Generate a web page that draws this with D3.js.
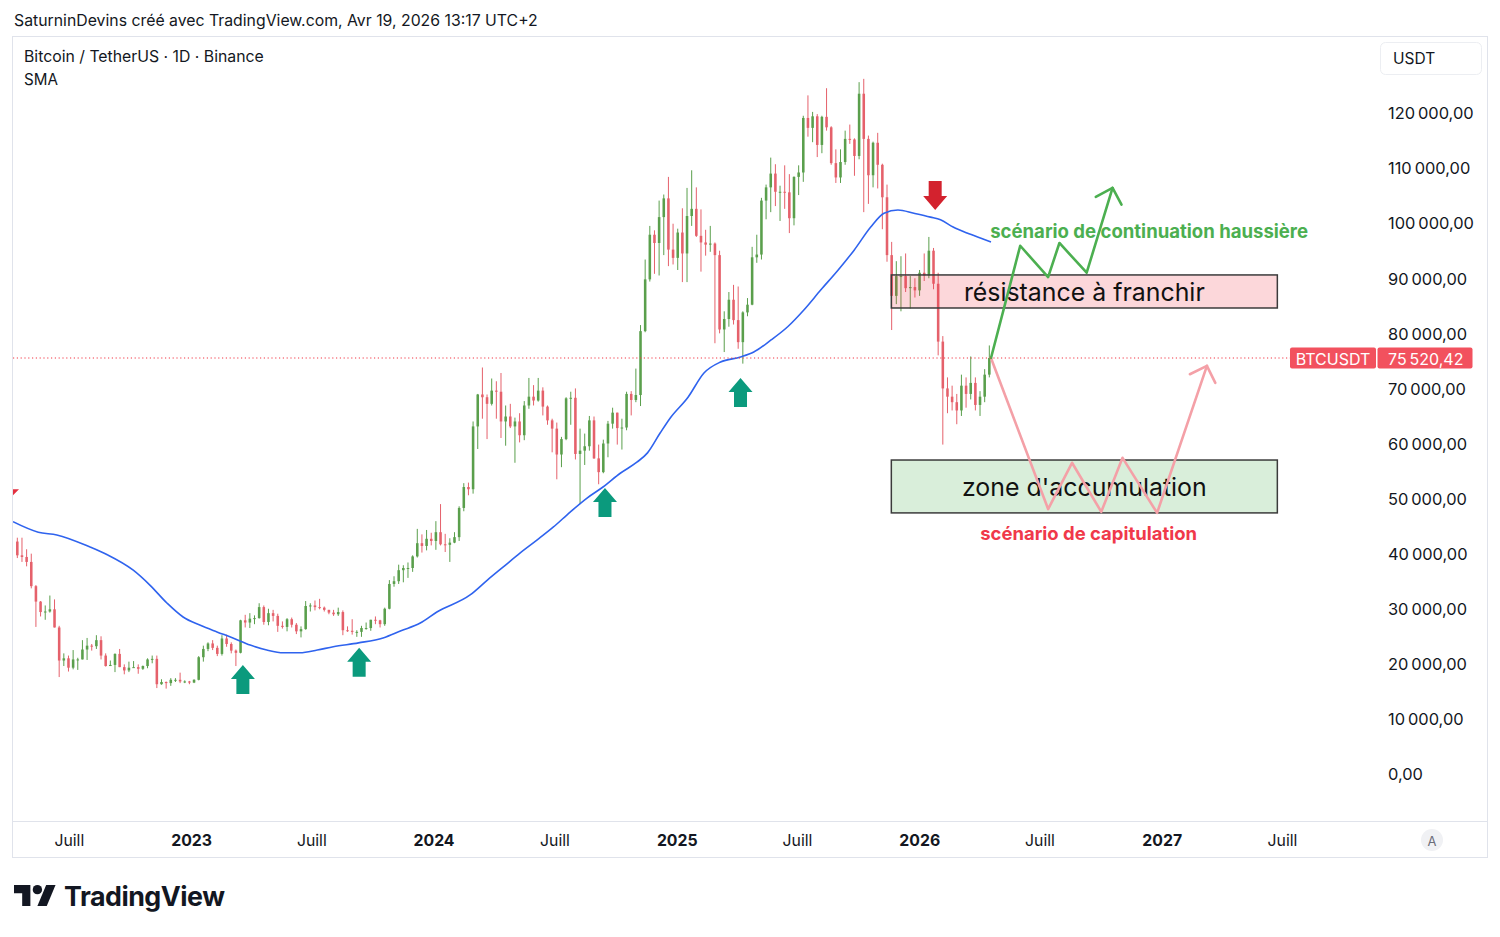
<!DOCTYPE html>
<html><head><meta charset="utf-8">
<script src="https://cdn.jsdelivr.net/npm/d3@7/dist/d3.min.js"></script>
<style>
html,body{margin:0;padding:0;background:#fff;}
svg{display:block;}
</style></head><body>
<svg id="c" width="1500" height="937"></svg>
<script>
// ---------------- DATA ----------------
const headerText = "SaturninDevins créé avec TradingView.com, Avr 19, 2026 13:17 UTC+2";
const symbolText = "Bitcoin / TetherUS · 1D · Binance";
const indicatorText = "SMA";
const currencyText = "USDT";
const tickerText = "BTCUSDT";

// weekly candles (week starting on Monday), values in USDT
const firstWeek = "2022-04-11";
const firstOpen = 42200;
const highs = [
  // 2022
  42900,42900,40800, 40000,34300,31400,30600,32400, 31700,26900,21900,21500, 22500,21100,24300,24700,
  23600,25200,25000,21900,20600, 21900,22700,19900,20400, 20500,19900,19700,21000,21500,
  21500,17200,16800,17400, 17400,18400,17000,16900,
  // 2023
  17200,21400,23300,23900,24300, 23300,25200,25300,23900, 22600,28000,28900,29200, 28800,31000,30600,30000,
  29800,29100,27700,28300,28400, 27400,26800,31400,31000, 31500,31800,30400,29800,29800,
  30200,29700,26800,28100, 26100,26900,27500,28000, 28600,28000,30200,35200,35900,
  38000,37900,38400,39700, 44500,43500,44300,43800,
  // 2024
  45900,49000,43600,42800,43900, 48600,52800,52900,64000, 69000,73800,68900,71800, 71300,72800,66900,67200,64700,
  65500,67700,71900,70600, 71900,70200,66900,64500, 63800,61200,68400,69400,70000,
  62700,61800,65000,64900, 59800,60700,64100,66500,65600, 64500,69400,69500,73600,
  81500,93400,99500,98700, 104100,105200,108400,99900,99000,
  // 2025
  102700,106400,109600,106500, 102500,98800,99500,96500, 95000,84000,87500,88800,88500, 84000,86400,95700,97900,
  104600,107000,111900,110700, 106800,110500,108900,108500,110500, 119500,123200,120200,119800,
  119500,124500,117600,113400, 113400,116800,117900,115400,125600, 126200,115900,114800,116400,
  110800,107000,96600,93100, 94000,94500,90400,90000,91500,
  // 2026
  94500,97500,95500,91000, 79500,72000,70500,69000, 72500,72000,75800,72000, 69500,73500,77800
];
const lows = [
  // 2022
  39200,38500,37700, 33700,26700,28600,28000,29300, 26600,17600,19600,18600, 19000,18900,20800,20700,
  22400,22700,20800,19500,19600, 18500,19400,18100,18500, 19300,18200,18900,19200,20100,
  15600,16200,15500,16000, 16700,16500,16500,16300,
  // 2023
  16500,17000,20400,22300,22500, 21400,21500,23100,21900, 19600,21900,26600,26500, 27200,28200,27100,27000,
  27700,25800,26400,25900,26600, 25400,24800,26200,29500, 29700,29900,29500,29000,28700,
  28700,25200,25800,25300, 24900,24900,26200,26000, 27200,26600,26900,29900,34000,
  34500,34800,35600,36700, 39300,40200,40600,41500,
  // 2024
  40700,41500,40300,38500,41900, 42300,47700,50600,50900, 59000,64500,60800,66900, 64500,61000,59600,62800,56500,
  60200,60600,66300,66900, 67600,65100,63400,58400, 53500,55700,60600,63400,57100,
  49000,56100,58700,57200, 52600,54600,57500,62700,59800, 58900,62400,65100,67500,
  66800,80200,89400,90800, 90500,94200,92200,92500,91500,
  // 2025
  89300,89300,99500,97500, 91200,94100,94800,78200, 80000,76600,81200,81600,77200, 74500,83100,85100,92800,
  93400,100700,102000,103100, 100400,102600,98200,99600,105100, 107500,115700,114700,112000,
  112700,116800,110600,107300, 107300,110600,114400,108600,111600, 102000,103500,106500,106300,
  98900,93000,80600,85300, 84000,87500,84500,86500,86800,
  // 2026
  89500,90000,88000,76000, 59800,65500,66000,63500, 65000,66500,68000,66000, 65000,67500,72000
];
const closes = [
  // 2022
  39700,39400,38500, 34100,31300,29400,29500,29900, 26600,20600,21000,19300, 20800,20800,22600,23300,
  23200,24300,21500,19600,19800, 21800,19400,18800,19300, 19400,19100,19600,20800,20900,
  16300,16700,16500,17100, 17100,16800,16800,16600,
  // 2023
  17100,21200,22700,23700,22900, 21800,24600,23600,22400, 22000,27900,27500,28200, 28300,30300,27600,29200,
  28700,26900,26700,28100,27100, 25900,26300,30500,30600, 30300,30200,29800,29300,29000,
  29400,26100,26000,25800, 25800,26500,26500,28000, 27900,27200,30000,34500,35000,
  37000,37400,37400,39500, 41900,41400,42700,42300,
  // 2024
  43900,41700,41600,42000,43000, 48300,52100,51700,63100, 68900,68400,67200,69600, 69400,64000,64900,63100,64000,
  61500,66900,68500,67800, 69600,66700,64200,62700, 58000,60800,68200,68300,58100,
  58700,59500,64200,57300, 54800,60000,63600,65600,62800, 62900,69000,67900,68800,
  80400,89800,97900,96400, 101100,104500,95200,93700,98300,
  // 2025
  94500,101300,102600,97700, 96500,96100,96300,94200, 80700,82600,86100,82400,78400, 83800,85200,93800,94300,
  104100,106500,109000,105700, 105700,105600,100900,108400,109200, 119100,117300,119400,114200,
  119300,117400,110900,108300, 111100,115300,115200,112200,123500, 115300,108700,114600,110600,
  104700,94200,86800,90400, 90400,88200,88400,87800,91000,
  // 2026
  90500,95000,89000,78500, 70000,68500,67500,66000, 70500,69000,71000,67000, 68500,72500,75520.42
];
const lastPrice = 75520.42;

// moving average (SMA)
const smaDates = ["2022-04-08","2022-05-16","2022-06-13","2022-08-02","2022-08-28","2022-10-06","2022-10-31","2022-11-26","2022-12-20",
  "2023-01-15","2023-02-09","2023-03-05","2023-03-31","2023-04-25","2023-05-20","2023-06-14","2023-07-10","2023-08-03","2023-09-10","2023-10-17","2023-11-13","2023-12-12",
  "2024-01-06","2024-02-25","2024-03-22","2024-04-15","2024-05-10","2024-06-05","2024-06-29","2024-07-25","2024-08-19","2024-09-12","2024-10-08","2024-11-02","2024-11-18","2024-12-07","2024-12-22",
  "2025-01-18","2025-02-11","2025-03-08","2025-04-07","2025-04-27","2025-05-23","2025-06-17","2025-07-11","2025-08-06","2025-09-01","2025-09-25","2025-10-20","2025-11-09","2025-11-30","2025-12-24",
  "2026-01-18","2026-02-02","2026-02-21","2026-03-14","2026-04-03","2026-04-19"];
const smaValues = [45800,43900,43400,41200,39800,37000,34300,31000,28500,
  27000,25800,24700,23400,22500,22000,22000,22500,23100,23800,24700,26000,27400,
  29400,32500,35200,37600,40100,42500,44800,47600,50100,52100,54600,56600,58300,61900,64600,
  68400,72800,74800,75700,76600,78800,81200,84200,87900,91500,95100,99300,101800,102400,101800,
  101100,100600,99300,98200,97300,96600];

// axes
const priceTicks = [0,10000,20000,30000,40000,50000,60000,70000,80000,90000,100000,110000,120000];
const timeTicks = ["2022-07-01","2023-01-01","2023-07-01","2024-01-01","2024-07-01","2025-01-01","2025-07-01","2026-01-01","2026-07-01","2027-01-01","2027-07-01"];
const timeLabels = ["Juill","2023","Juill","2024","Juill","2025","Juill","2026","Juill","2027","Juill"];

// drawings
const zoneDates = ["2025-11-20","2027-06-24"];
const resistancePrices = [84600, 90600];
const accumulationPrices = [47400, 57000];
const resistanceLabel = "résistance à franchir";
const accumulationLabel = "zone d'accumulation";
const bullDates = ["2026-04-19","2026-06-02","2026-07-14","2026-07-31","2026-09-10","2026-10-19"];
const bullValues = [75520,95900,90200,96400,91000,106400];
const bearDates = ["2026-04-19","2026-07-14","2026-08-19","2026-10-02","2026-11-03","2026-12-25","2027-03-10"];
const bearValues = [75520,48100,56500,47600,57400,47400,74100];
const bullLabel = "scénario de continuation haussière";
const bullLabelAt = ["2026-12-13", 98600];
const bearLabel = "scénario de capitulation";
const bearLabelAt = ["2026-09-13", 43750];
const buyArrowDates = ["2023-03-20","2023-09-11","2024-09-15","2025-04-07"];
const buyArrowPrices = [19800, 22900, 51900, 71900];
const sellArrowDates = ["2026-01-25"];
const sellArrowPrices = [102400];

// ---------------- DRAW ----------------
const FONT = "Inter, 'Noto Sans', sans-serif";
const TXT = "#131722";
const UP = "#5a9f4c", DOWN = "#e5616b";
const svg = d3.select("#c").attr("font-family", FONT);
const plot = {left: 13, right: 1377, top: 37, bottom: 821};

const x = d3.scaleUtc().domain([new Date("2022-04-08"), new Date("2027-11-21")]).range([plot.left, plot.right]);
const y = d3.scaleLinear().domain([0, 120000]).range([774, 113]);
const D = s => new Date(s);

function fit(sel, target) {
  const w = sel.node().getComputedTextLength();
  const fs = parseFloat(sel.attr("font-size"));
  sel.attr("font-size", fs * target / w);
  return sel;
}

// header
fit(svg.append("text").attr("x", 14).attr("y", 20).attr("dominant-baseline", "central")
  .attr("font-size", 15).attr("fill", TXT).text(headerText), 524);

// frame
svg.append("rect").attr("x", 12.5).attr("y", 36.5).attr("width", 1475).attr("height", 821)
  .attr("fill", "#fff").attr("stroke", "#e0e3eb");
svg.append("line").attr("x1", 13).attr("x2", 1487).attr("y1", 821.5).attr("y2", 821.5).attr("stroke", "#e0e3eb");

svg.append("clipPath").attr("id", "clip").append("rect")
  .attr("x", plot.left).attr("y", plot.top).attr("width", plot.right - plot.left).attr("height", plot.bottom - plot.top);
const g = svg.append("g").attr("clip-path", "url(#clip)");

// candles
const weeks = closes.map((c, i) => d3.utcDay.offset(D(firstWeek), 7 * i));
const candles = weeks.map((d, i) => ({date: d, open: i ? closes[i - 1] : firstOpen, high: highs[i], low: lows[i], close: closes[i]}));
const step = x(d3.utcDay.offset(weeks[0], 7)) - x(weeks[0]);
const bw = step * 0.55;
const cx = d => x(d3.utcHour.offset(d.date, 84));
const cg = g.append("g");
cg.selectAll("line").data(candles).join("line")
  .attr("x1", cx).attr("x2", cx).attr("y1", d => y(d.high)).attr("y2", d => y(d.low))
  .attr("stroke", d => d.close >= d.open ? UP : DOWN).attr("stroke-width", 1);
cg.selectAll("rect").data(candles).join("rect")
  .attr("x", d => cx(d) - bw / 2).attr("width", bw)
  .attr("y", d => y(Math.max(d.open, d.close)))
  .attr("height", d => Math.max(1, Math.abs(y(d.open) - y(d.close))))
  .attr("fill", d => d.close >= d.open ? UP : DOWN);

// SMA
g.append("path").datum(smaDates.map((d, i) => [D(d), smaValues[i]]))
  .attr("fill", "none").attr("stroke", "#2f63ee").attr("stroke-width", 1.6)
  .attr("d", d3.line().x(d => x(d[0])).y(d => y(d[1])).curve(d3.curveMonotoneX));

// zones
function zone(prices, fill, label) {
  const x0 = x(D(zoneDates[0])), x1 = x(D(zoneDates[1]));
  const y0 = y(prices[1]), y1 = y(prices[0]);
  g.append("rect").attr("x", x0).attr("y", y0).attr("width", x1 - x0).attr("height", y1 - y0)
    .attr("fill", fill).attr("stroke", "#3b3b3b").attr("stroke-width", 1.5);
  const t = g.append("text").attr("x", (x0 + x1) / 2).attr("y", (y0 + y1) / 2 + 1)
    .attr("text-anchor", "middle").attr("dominant-baseline", "central")
    .attr("font-size", 26).attr("fill", "#111").text(label);
  return t;
}
fit(zone(resistancePrices, "rgba(242,54,69,0.2)", resistanceLabel), 241);
fit(zone(accumulationPrices, "rgba(76,175,80,0.21)", accumulationLabel), 245);

// scenario labels
fit(g.append("text").attr("x", x(D(bullLabelAt[0]))).attr("y", y(bullLabelAt[1]))
  .attr("text-anchor", "middle").attr("dominant-baseline", "central").attr("font-weight", 700)
  .attr("font-size", 17).attr("fill", "#4caf50").text(bullLabel), 318);
fit(g.append("text").attr("x", x(D(bearLabelAt[0]))).attr("y", y(bearLabelAt[1]))
  .attr("text-anchor", "middle").attr("dominant-baseline", "central").attr("font-weight", 700)
  .attr("font-size", 17).attr("fill", "#f0394a").text(bearLabel), 217);

// scenario paths
function scenario(dates, values, color) {
  const pts = dates.map((d, i) => [x(D(d)), y(values[i])]);
  g.append("path").attr("d", d3.line()(pts)).attr("fill", "none")
    .attr("stroke", color).attr("stroke-width", 2.6).attr("stroke-linejoin", "round").attr("stroke-linecap", "round");
  const [a, b] = pts.slice(-2);
  const ang = Math.atan2(a[1] - b[1], a[0] - b[0]);
  const L = 19;
  const wing = s => [b[0] + L * Math.cos(ang + s), b[1] + L * Math.sin(ang + s)];
  g.append("path").attr("d", d3.line()([wing(Math.PI / 4), b, wing(-Math.PI / 4)]))
    .attr("fill", "none").attr("stroke", color).attr("stroke-width", 2.6)
    .attr("stroke-linejoin", "round").attr("stroke-linecap", "round");
}
scenario(bearDates, bearValues, "#f4a0a7");
scenario(bullDates, bullValues, "#4caf50");

// block arrows
function blockArrow(dateStr, price, dir, color) {
  const px = x(D(dateStr)), py = y(price);
  const s = dir; // 1 = up (tip on top), -1 = down (tip at bottom)
  const pts = [[0, 0], [12, 14], [6.5, 14], [6.5, 29], [-6.5, 29], [-6.5, 14], [-12, 14]]
    .map(p => [px + p[0], py + s * p[1]]);
  g.append("polygon").attr("points", pts.map(p => p.join(",")).join(" ")).attr("fill", color);
}
buyArrowDates.forEach((d, i) => blockArrow(d, buyArrowPrices[i], 1, "#0b9a7d"));
sellArrowDates.forEach((d, i) => blockArrow(d, sellArrowPrices[i], -1, "#d3222e"));

// small marker at left edge
g.append("polygon").attr("fill", "#e33040")
  .attr("points", [[plot.left, y(51700)], [plot.left + 6, y(51700)], [plot.left, y(51700) + 6]].map(p => p.join(",")).join(" "));

// last price line
const yl = y(lastPrice);
svg.append("line").attr("x1", plot.left).attr("x2", 1290).attr("y1", yl).attr("y2", yl)
  .attr("stroke", "#f23645").attr("stroke-width", 1).attr("stroke-dasharray", "1.2,2.6");

// symbol legend
fit(svg.append("text").attr("x", 24).attr("y", 56).attr("dominant-baseline", "central")
  .attr("font-size", 15).attr("fill", TXT).text(symbolText), 240);
fit(svg.append("text").attr("x", 24).attr("y", 79).attr("dominant-baseline", "central")
  .attr("font-size", 15).attr("fill", TXT).text(indicatorText), 34);

// price axis
const fr = d3.formatLocale({decimal: ",", thousands: "\u202F", grouping: [3], currency: ["", ""]});
const fmt = fr.format(",.2f");
const ya = svg.append("g").attr("transform", "translate(1388,0)")
  .call(d3.axisRight(y).tickValues(priceTicks).tickFormat(fmt).tickSize(0).tickPadding(0));
ya.select(".domain").remove();
ya.attr("font-family", FONT).attr("font-size", 16.4);
ya.selectAll("text").attr("fill", TXT).attr("dy", "0.35em");

// currency box
svg.append("rect").attr("x", 1380.5).attr("y", 42.5).attr("width", 101).attr("height", 32).attr("rx", 5)
  .attr("fill", "#fff").attr("stroke", "#eceef2");
svg.append("text").attr("x", 1393).attr("y", 58.5).attr("dominant-baseline", "central")
  .attr("font-size", 15.5).attr("fill", TXT).text(currencyText);

// last price label
svg.append("rect").attr("x", 1290).attr("y", yl - 10.5).attr("width", 86).attr("height", 21).attr("rx", 2).attr("fill", "#f2515e");
svg.append("rect").attr("x", 1377.5).attr("y", yl - 10.5).attr("width", 95).attr("height", 21).attr("rx", 2).attr("fill", "#f2515e");
svg.append("text").attr("x", 1333).attr("y", yl + 1).attr("text-anchor", "middle").attr("dominant-baseline", "central")
  .attr("font-size", 16).attr("fill", "#fff").text(tickerText);
svg.append("text").attr("x", 1388).attr("y", yl + 1).attr("dominant-baseline", "central")
  .attr("font-size", 16).attr("fill", "#fff").text(fmt(lastPrice));

// time axis
const xa = svg.append("g").attr("transform", "translate(0,840)")
  .call(d3.axisBottom(x).tickValues(timeTicks.map(D)).tickFormat((d, i) => timeLabels[i]).tickSize(0).tickPadding(0));
xa.select(".domain").remove();
xa.attr("font-family", FONT).attr("font-size", 15.8);
xa.selectAll("text").attr("fill", TXT).attr("dy", "0.35em").attr("y", 0)
  .attr("font-weight", (d, i) => timeLabels[i] === "Juill" ? 400 : 700);

// auto-scale button
svg.append("circle").attr("cx", 1432).attr("cy", 840).attr("r", 11).attr("fill", "#f0f1f4");
svg.append("text").attr("x", 1432).attr("y", 840.5).attr("text-anchor", "middle").attr("dominant-baseline", "central")
  .attr("font-size", 13).attr("fill", "#6a6d78").text("A");

// TradingView logo
const logo = svg.append("g").attr("transform", "translate(14,880.3) scale(1.17)").attr("fill", "#131722");
logo.append("path").attr("d", "M0 4H14V22H7V11H0Z");
logo.append("circle").attr("cx", 20).attr("cy", 8).attr("r", 4);
logo.append("path").attr("d", "M27.5 4H35.5L28 22H20Z");
fit(svg.append("text").attr("x", 64).attr("y", 906).attr("font-size", 29).attr("font-weight", 700)
  .attr("letter-spacing", -0.5).attr("fill", "#131722").text("TradingView"), 161);
</script>
</body></html>
